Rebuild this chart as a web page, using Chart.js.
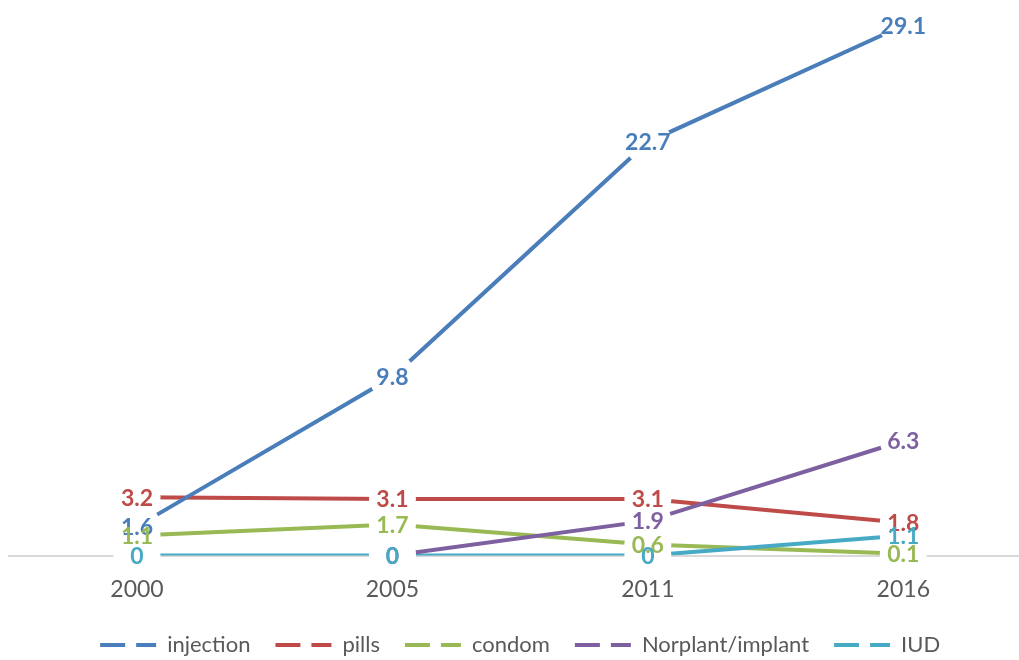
<!DOCTYPE html>
<html>
<head>
<meta charset="utf-8">
<title>Contraceptive method use</title>
<script src="https://cdn.jsdelivr.net/npm/chart.js@4/dist/chart.umd.min.js"></script>
<style>
  html, body { margin: 0; padding: 0; background: #fff; overflow: hidden; }
  #wrap { width: 1019px; height: 660px; overflow: hidden; position: relative; }
  #chart { display: block; }
</style>
</head>
<body>
<div id="wrap"><canvas id="chart" width="1031" height="666"></canvas></div>
<script>
// Survey years and share of women using each method (%)
var years = ["2000", "2005", "2011", "2016"];
var injection = [1.6, 9.8, 22.7, 29.1];
var pills = [3.2, 3.1, 3.1, 1.8];
var condom = [1.1, 1.7, 0.6, 0.1];
var implant = [null, 0, 1.9, 6.3];
var iud = [0, 0, 0, 1.1];
var seriesNames = ["injection", "pills", "condom", "Norplant/implant", "IUD"];

var COLORS = ["#4A7EBB", "#BE4B48", "#98B954", "#7D60A0", "#46AAC5"];
var DRAW_ORDER = [1, 5, 4, 2, 3]; // lower = drawn on top
var FONT = "Lato, 'Open Sans', sans-serif";

(function () {
  "use strict";

  var seriesData = [injection, pills, condom, implant, iud];

  var datasets = seriesNames.map(function (name, i) {
    return {
      label: name,
      data: seriesData[i],
      borderColor: COLORS[i],
      backgroundColor: COLORS[i],
      borderWidth: 4,
      borderCapStyle: "butt",
      pointRadius: 0,
      pointHoverRadius: 0,
      tension: 0,
      spanGaps: false,
      order: DRAW_ORDER[i],
    };
  });

  // White round markers over every point, then the value labels on top
  var pointLabels = {
    id: "pointLabels",
    afterDatasetsDraw: function (chart) {
      var ctx = chart.ctx;
      var metas = chart.data.datasets.map(function (ds, i) { return chart.getDatasetMeta(i); });

      ctx.save();
      ctx.fillStyle = "#fff";
      metas.forEach(function (meta, i) {
        meta.data.forEach(function (pt, j) {
          if (chart.data.datasets[i].data[j] === null) return;
          ctx.beginPath();
          ctx.arc(pt.x, pt.y, 23.5, 0, Math.PI * 2);
          ctx.fill();
        });
      });

      ctx.font = "bold 23px " + FONT;
      ctx.textAlign = "center";
      ctx.textBaseline = "middle";
      metas.forEach(function (meta, i) {
        var values = chart.data.datasets[i].data;
        ctx.fillStyle = COLORS[i];
        meta.data.forEach(function (pt, j) {
          if (values[j] === null) return;
          ctx.fillText(String(values[j]), pt.x, pt.y + 1);
        });
      });
      ctx.restore();
    },
  };

  new Chart(document.getElementById("chart"), {
    type: "line",
    data: { labels: years, datasets: datasets },
    options: {
      responsive: false,
      devicePixelRatio: 1,
      animation: false,
      layout: { padding: { left: 9.3, right: 0, top: 9.1, bottom: 0 } },
      scales: {
        x: {
          offset: true,
          grid: { display: false, drawTicks: false },
          border: { display: true, color: "#D9D9D9", width: 2 },
          ticks: { color: "#595959", font: { family: FONT, size: 23 }, padding: 20 },
          afterFit: function (scale) { scale.height = 53.5; },
        },
        y: {
          display: false,
          min: 0,
          max: 30,
        },
      },
      plugins: {
        tooltip: { enabled: false },
        legend: {
          position: "bottom",
          labels: {
            usePointStyle: true,
            pointStyleWidth: 56,
            padding: 25,
            color: "#595959",
            font: { family: FONT, size: 22 },
            sort: function (a, b) { return a.datasetIndex - b.datasetIndex; },
            generateLabels: function (chart) {
              var items = Chart.defaults.plugins.legend.labels.generateLabels(chart);
              return items.map(function (it) {
                it.pointStyle = "line";
                it.lineDash = [25, 11];
                it.lineWidth = 4;
                it.strokeStyle = COLORS[it.datasetIndex];
                return it;
              });
            },
          },
        },
      },
    },
    plugins: [pointLabels],
  });
})();
</script>
</body>
</html>
